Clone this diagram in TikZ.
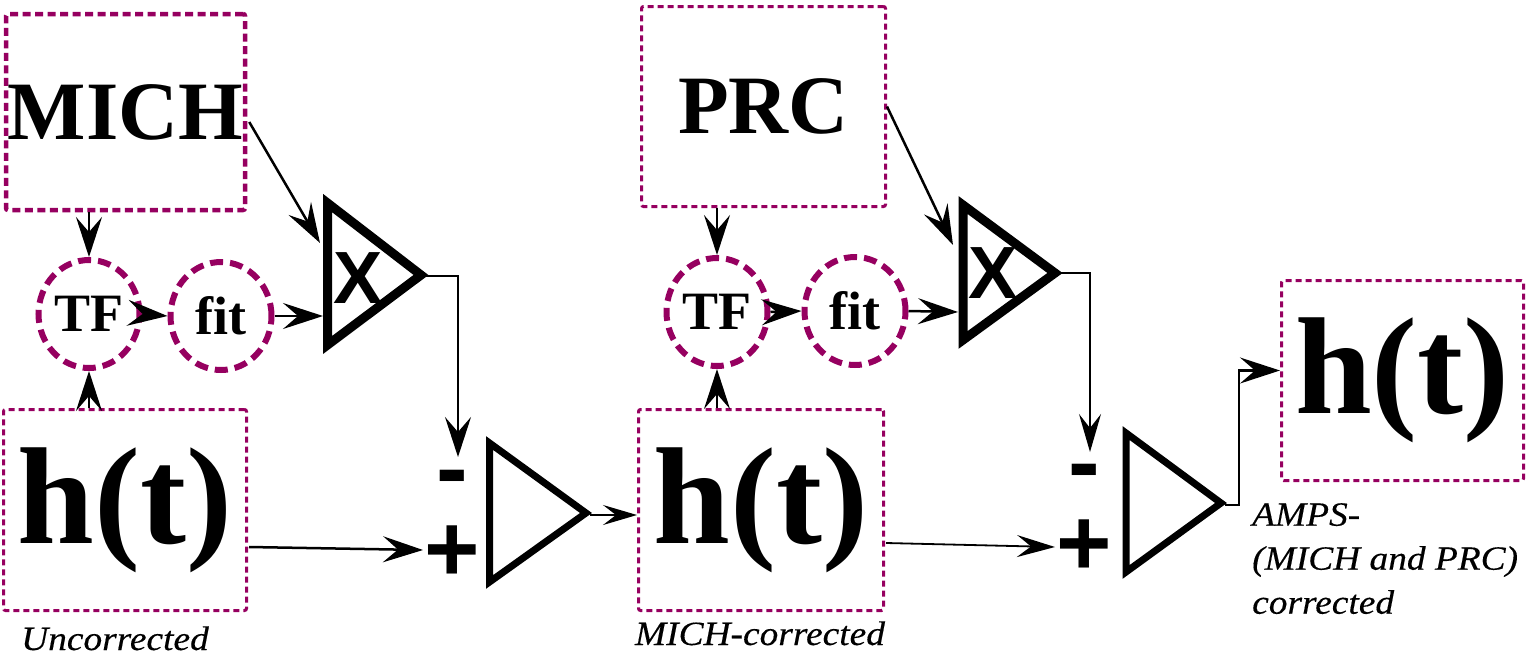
\documentclass[tikz,border=0pt]{standalone}
\usepackage{fontspec}
\setmainfont{Liberation Serif}
\newfontfamily\sansbf{Liberation Sans}
\newfontfamily\lblfont[FakeStretch=1.1,FakeBold=0.3]{Liberation Serif}
\usetikzlibrary{arrows.meta,calc,shapes.geometric}
\definecolor{mag}{RGB}{150,0,96}
\begin{document}
\begin{tikzpicture}[x=1pt,y=-1pt,
  box/.style={draw=mag, line width=3pt, dash pattern=on 6pt off 4pt, rounded corners=2pt, inner sep=0pt},
  boxthick/.style={box, line width=4.5pt, dash pattern=on 8pt off 4.5pt},
  circ/.style={draw=mag, ellipse, line width=6pt, dash pattern=on 13pt off 7pt, inner sep=0pt, minimum width=101pt, minimum height=108pt, font=\fontsize{54}{54}\selectfont\bfseries},
  bigtxt/.style={font=\fontsize{83}{83}\selectfont\bfseries},
  httxt/.style={font=\fontsize{138}{138}\selectfont\bfseries},
  tri/.style={draw=black, line width=9pt, miter limit=20},
  adder/.style={draw=black, line width=7pt, miter limit=20},
  xmark/.style={inner sep=0pt, font=\sansbf\fontsize{74}{74}\selectfont\bfseries},
  signs/.style={inner sep=0pt, anchor=north, align=center, font=\sansbf\fontsize{95}{81}\selectfont\bfseries},
  lbl/.style={inner sep=0pt, font=\lblfont\fontsize{34}{44}\selectfont\itshape},
  arr/.style={draw=black, line width=2.5pt, -{Stealth[length=40pt,width=26pt,inset=15pt]}},
  arrthin/.style={draw=black, line width=1.8pt, -{Stealth[length=38pt,width=22pt,inset=14pt]}},
  arrsmall/.style={draw=black, line width=1.8pt, -{Stealth[length=34pt,width=20pt,inset=13pt]}}
]
\useasboundingbox (0,0) rectangle (1528,656);

% boxes
\node[boxthick, minimum width=239pt, minimum height=196pt, bigtxt] (mich) at (125.5,112) {MICH};
\node[box, minimum width=243pt, minimum height=201pt, httxt] (ht1) at (125,510) {h(t)};
\node[box, minimum width=244pt, minimum height=200pt, bigtxt] (prc) at (763.5,106.5) {PRC};
\node[box, minimum width=245pt, minimum height=201pt, httxt] (ht2) at (761,510) {h(t)};
\node[box, minimum width=242pt, minimum height=200pt, httxt] (outb) at (1402.5,380.5) {h(t)};

% circles
\node[circ] (tf1) at (89,314) {TF};
\node[circ] (fit1) at (221,316) {fit};
\node[circ] (tf2) at (717,312) {TF};
\node[circ] (fit2) at (855,311) {fit};

% multipliers
\draw[tri] (327.5,203) -- (421,275) -- (327.5,345) -- cycle;
\node[xmark] (x1) at (358,278) {X};
\draw[tri] (963,205) -- (1055,273) -- (963,340) -- cycle;
\node[xmark] (x2) at (993,273) {X};

% adders
\draw[adder] (489.5,443) -- (586,513) -- (489.5,582) -- cycle;
\draw[adder] (1126,433) -- (1221,503) -- (1126,572) -- cycle;

% signs
\node[signs] (sg1) at (452,470) {-\\+};
\node[signs] (sg2) at (1084,464) {-\\+};

% labels
\node[lbl, anchor=base] (lu) at (115,650) {Uncorrected};
\node[lbl, anchor=base] (lm) at (760,645) {MICH-corrected};
\node[lbl, anchor=north west, align=left] (la) at (1252,503) {AMPS-\\(MICH and PRC)\\corrected};

% connector end points
\coordinate (m1a) at (320,243);
\coordinate (m1b) at (323,316);
\coordinate (m1o) at (424,276);
\coordinate (s1m) at (458,457);
\coordinate (s1p) at (423,550);
\coordinate (a1o) at (590,515);
\coordinate (m2a) at (953,245);
\coordinate (m2b) at (958,312);
\coordinate (m2o) at (1059,273);
\coordinate (s2m) at (1090,452);
\coordinate (s2p) at (1055,547);
\coordinate (a2o) at (1225,505);

% connectors
\draw[arr] ($(mich.east)+(2,10)$) -- (m1a);
\draw[arr] (tf1.north |- mich.south) -- (tf1.north);
\draw[arr] (tf1.south |- ht1.north) -- (tf1.south);
\draw[arr] (tf1.east) -- (fit1.west);
\draw[arr] (fit1.east) -- (m1b);
\draw[arr] (m1o) -| (s1m);
\draw[arr] ($(ht1.east)+(1,37)$) -- (s1p);
\draw[arrsmall] (a1o) -- ($(ht2.west)+(0,5)$);

\draw[arr] (prc.east) -- (m2a);
\draw[arr] (tf2.north |- prc.south) -- (tf2.north);
\draw[arr] (tf2.south |- ht2.north) -- (tf2.south);
\draw[arr] (tf2.east) -- (fit2.west);
\draw[arr] (fit2.east) -- (m2b);
\draw[arrthin] (m2o) -| (s2m);
\draw[arrthin] ($(ht2.east)+(1,33)$) -- (s2p);
\draw[arr] (a2o) -| ($(outb.west)+(-41,-10)$) -- ($(outb.west)+(0,-10)$);
\end{tikzpicture}
\end{document}
